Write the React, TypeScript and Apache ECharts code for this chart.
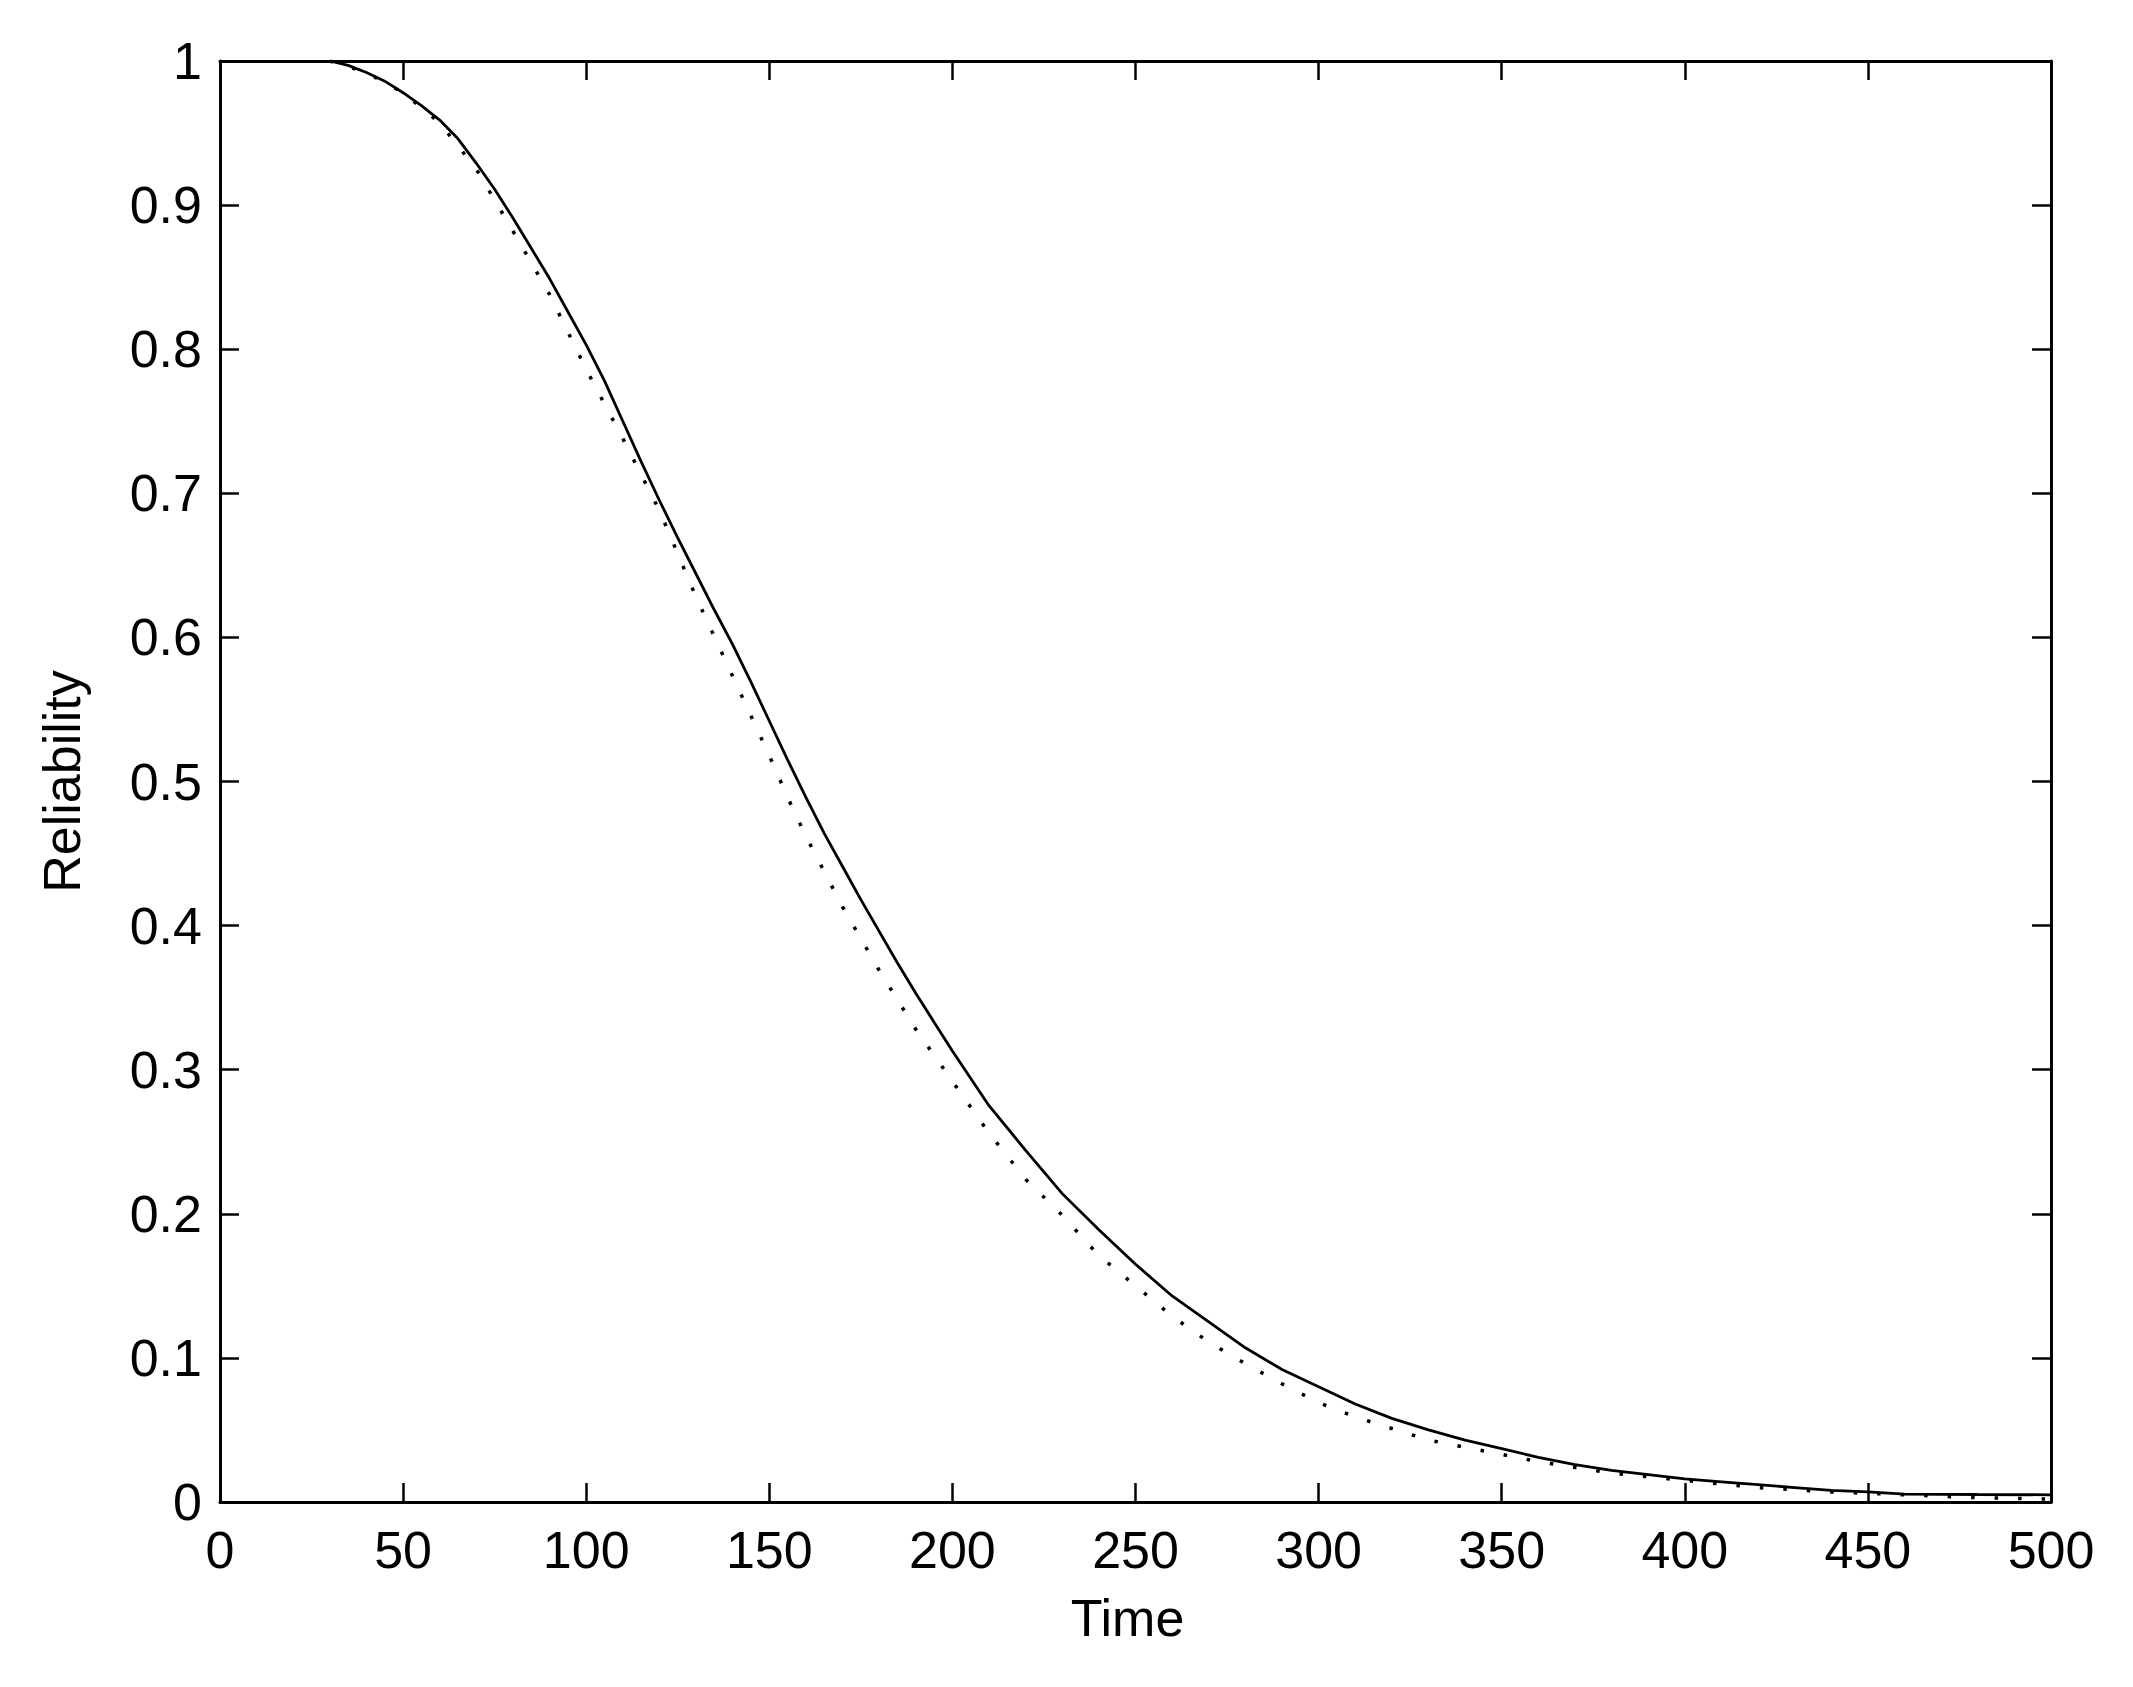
import React, { useEffect, useRef } from "react";
import * as echarts from "echarts";

const xTicks = [0, 50, 100, 150, 200, 250, 300, 350, 400, 450, 500];
const yTicks = [0, 0.1, 0.2, 0.3, 0.4, 0.5, 0.6, 0.7, 0.8, 0.9, 1];

const solidTime = [30, 35, 40, 45, 50, 55, 60, 65, 70, 75, 80, 85, 90, 95, 100, 105, 110, 115, 120, 125, 130, 135, 140, 145, 150, 155, 160, 165, 170, 175, 180, 185, 190, 195, 200, 210, 220, 230, 240, 250, 260, 270, 280, 290, 300, 310, 320, 330, 340, 350, 360, 370, 380, 390, 400, 410, 420, 430, 440, 450, 460, 480, 500];
const solidReliability = [1.0, 0.997, 0.992, 0.986, 0.978, 0.969, 0.959, 0.946, 0.929, 0.911, 0.891, 0.870, 0.849, 0.826, 0.803, 0.778, 0.75, 0.722, 0.695, 0.669, 0.644, 0.619, 0.595, 0.569, 0.542, 0.515, 0.489, 0.464, 0.441, 0.418, 0.396, 0.374, 0.353, 0.333, 0.313, 0.275, 0.244, 0.214, 0.189, 0.165, 0.143, 0.125, 0.107, 0.092, 0.08, 0.068, 0.058, 0.05, 0.043, 0.037, 0.031, 0.026, 0.022, 0.019, 0.016, 0.014, 0.012, 0.01, 0.008, 0.007, 0.0055, 0.0052, 0.005];

const dottedTime = [30, 40, 50, 60, 70, 80, 90, 100, 110, 115, 120, 130, 140, 150, 155, 160, 170, 180, 190, 200, 210, 220, 230, 240, 250, 260, 270, 280, 290, 300, 310, 320, 330, 340, 350, 360, 380, 400, 420, 440, 460, 480, 500];
const dottedReliability = [1.0, 0.992, 0.978, 0.957, 0.925, 0.882, 0.838, 0.786, 0.738, 0.713, 0.688, 0.628, 0.573, 0.518, 0.489, 0.462, 0.413, 0.369, 0.328, 0.292, 0.256, 0.224, 0.199, 0.171, 0.150, 0.129, 0.111, 0.096, 0.082, 0.069, 0.059, 0.051, 0.043, 0.038, 0.033, 0.028, 0.02, 0.015, 0.01, 0.007, 0.005, 0.003, 0.002];

const FONT = "Liberation Sans";
const FS = 52;

export default function App() {
  const ref = useRef<HTMLDivElement>(null);
  useEffect(() => {
    document.body.style.margin = "0";
    const chart = echarts.init(ref.current!, null, { renderer: "svg" });
    const axisLine = { show: true, onZero: false, lineStyle: { color: "#000", width: 3 } };
    const tick = { show: true, inside: true, length: 19, lineStyle: { color: "#000", width: 2.5 } };
    const label = { color: "#000", fontSize: FS, fontFamily: FONT };
    chart.setOption({
      animation: false,
      backgroundColor: "#fff",
      grid: { left: 220, top: 61, width: 1831, height: 1441, containLabel: false },
      xAxis: [
        {
          type: "value", position: "bottom", min: xTicks[0], max: xTicks[xTicks.length - 1], interval: 50,
          axisLine, axisTick: tick, splitLine: { show: false },
          axisLabel: { ...label, margin: 22 },
          name: "Time", nameLocation: "middle", nameGap: 90,
          nameTextStyle: { color: "#000", fontSize: FS, fontFamily: FONT, padding: [0, 16, 0, 0] },
        },
        {
          type: "value", position: "top", min: xTicks[0], max: xTicks[xTicks.length - 1], interval: 50,
          axisLine, axisTick: tick, splitLine: { show: false }, axisLabel: { show: false },
        },
      ],
      yAxis: [
        {
          type: "value", position: "left", min: yTicks[0], max: yTicks[yTicks.length - 1], interval: 0.1,
          axisLine, axisTick: tick, splitLine: { show: false },
          axisLabel: { ...label, margin: 18, formatter: (v: number) => String(Math.round(v * 10) / 10) },
          name: "Reliability", nameLocation: "middle", nameGap: 132, nameRotate: 90,
          nameTextStyle: { color: "#000", fontSize: FS, fontFamily: FONT },
        },
        {
          type: "value", position: "right", min: yTicks[0], max: yTicks[yTicks.length - 1], interval: 0.1,
          axisLine, axisTick: tick, splitLine: { show: false }, axisLabel: { show: false },
        },
      ],
      series: [
        {
          type: "line", xAxisIndex: 0, yAxisIndex: 0, showSymbol: false, symbol: "none",
          data: solidTime.map((t, i) => [t, solidReliability[i]]),
          lineStyle: { color: "#000", width: 2.8 },
        },
        {
          type: "line", xAxisIndex: 0, yAxisIndex: 0, showSymbol: false, symbol: "none",
          data: dottedTime.map((t, i) => [t, dottedReliability[i]]),
          lineStyle: { color: "#000", width: 3.5, type: [3.5, 20] },
        },
      ],
    });
    return () => chart.dispose();
  }, []);
  return <div ref={ref} style={{ width: 2133, height: 1687 }} />;
}
